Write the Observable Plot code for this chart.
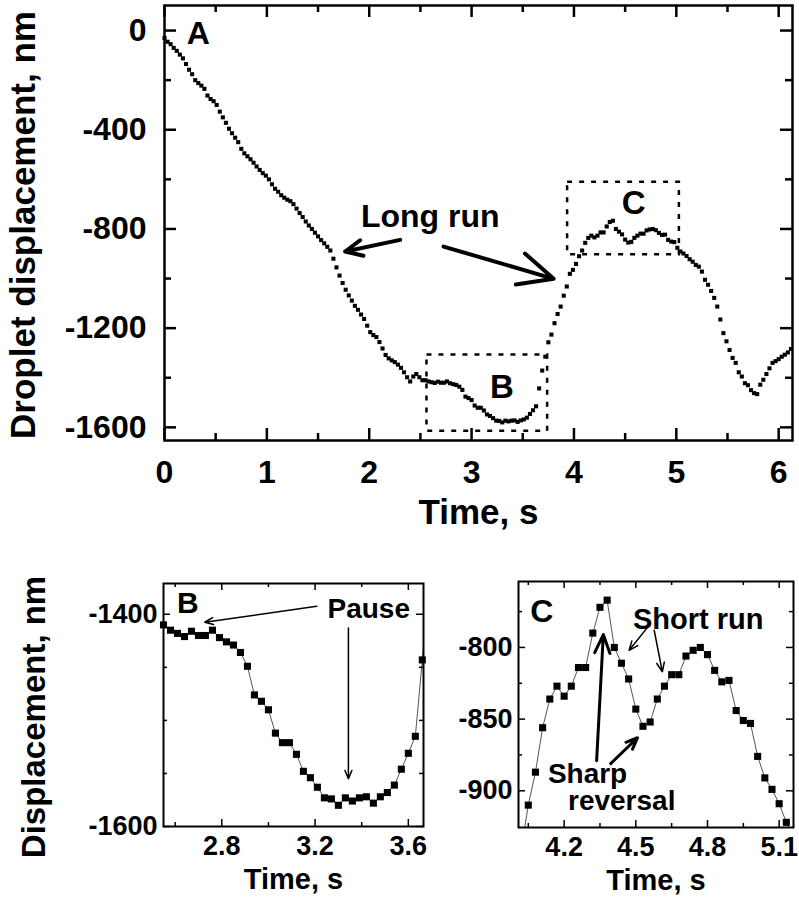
<!DOCTYPE html>
<html><head><meta charset="utf-8">
<script src="https://cdn.jsdelivr.net/npm/d3@7"></script>
<script src="https://cdn.jsdelivr.net/npm/@observablehq/plot@0.6"></script>
<style>
body{margin:0;background:#fff;}
#fig{position:relative;width:799px;height:899px;overflow:hidden;background:#fff;}
</style></head><body><div id="fig"></div>
<script>
// Sample times (s) and droplet displacement (nm)
const timeS = [
0,0.03,0.06,0.09,0.12,0.15,0.18,0.21,0.24,0.27,
0.30,0.33,0.36,0.39,0.42,0.45,0.48,0.51,0.54,0.57,
0.60,0.63,0.66,0.69,0.72,0.75,0.78,0.81,0.84,0.87,
0.90,0.93,0.96,0.99,1.02,1.05,1.08,1.11,1.14,1.17,
1.20,1.23,1.26,1.29,1.32,1.35,1.38,1.41,1.44,1.47,
1.50,1.53,1.56,1.59,1.62,1.65,1.68,1.71,1.74,1.77,
1.80,1.83,1.86,1.89,1.92,1.95,1.98,2.01,2.04,2.07,
2.10,2.13,2.16,2.19,2.22,2.25,2.28,2.31,2.34,2.37,
2.40,2.43,2.46,2.49,2.52,2.55,2.58,2.61,2.64,2.67,
2.70,2.73,2.76,2.79,2.82,2.85,2.88,2.91,2.94,2.97,
3.00,3.03,3.06,3.09,3.12,3.15,3.18,3.21,3.24,3.27,
3.30,3.33,3.36,3.39,3.42,3.45,3.48,3.51,3.54,3.57,
3.60,3.63,3.66,3.69,3.72,3.75,3.78,3.81,3.84,3.87,
3.90,3.93,3.96,3.99,4.02,4.05,4.08,4.11,4.14,4.17,
4.20,4.23,4.26,4.29,4.32,4.35,4.38,4.41,4.44,4.47,
4.50,4.53,4.56,4.59,4.62,4.65,4.68,4.71,4.74,4.77,
4.80,4.83,4.86,4.89,4.92,4.95,4.98,5.01,5.04,5.07,
5.10,5.13,5.16,5.19,5.22,5.25,5.28,5.31,5.34,5.37,
5.40,5.43,5.46,5.49,5.52,5.55,5.58,5.61,5.64,5.67,
5.70,5.73,5.76,5.79,5.82,5.85,5.88,5.91,5.94,5.97,
6.00,6.03,6.06,6.09,6.12];
const dispNm = [
-30,-45,-55,-70,-82,-97,-112,-135,-158,-176,
-200,-212,-222,-235,-262,-276,-285,-300,-327,-350,
-372,-396,-414,-432,-450,-477,-495,-507,-519,-533,
-548,-562,-575,-585,-600,-620,-638,-650,-664,-674,
-682,-688,-700,-718,-736,-752,-770,-786,-800,-815,
-830,-845,-858,-872,-887,-920,-955,-988,-1018,-1045,
-1068,-1089,-1110,-1126,-1145,-1163,-1190,-1216,-1228,-1236,
-1256,-1282,-1308,-1322,-1330,-1337,-1347,-1360,-1378,-1398,
-1415,-1395,-1385,-1398,-1410,-1410,-1415,-1418,-1421,-1416,
-1420,-1420,-1415,-1422,-1426,-1429,-1436,-1449,-1476,-1482,
-1490,-1512,-1521,-1521,-1532,-1548,-1554,-1563,-1573,-1574,
-1580,-1573,-1576,-1573,-1572,-1578,-1572,-1568,-1561,-1546,
-1531,-1515,-1443,-1371,-1315,-1257,-1226,-1180,-1143,-1113,
-1069,-1032,-981,-965,-941,-910,-887,-856,-836,-827,
-834,-827,-814,-814,-790,-772,-767,-800,-811,-822,
-843,-855,-852,-836,-827,-819,-819,-806,-802,-800,
-805,-816,-824,-823,-844,-851,-853,-876,-891,-899,
-909,-922,-932,-945,-952,-972,-1005,-1025,-1050,-1078,
-1113,-1165,-1220,-1253,-1288,-1320,-1340,-1378,-1395,-1422,
-1430,-1450,-1462,-1466,-1428,-1408,-1385,-1362,-1340,-1333,
-1325,-1315,-1307,-1298,-1284];

// Tick values
const mainXMajor = [0,1,2,3,4,5,6];
const mainXMinor = [0.5,1.5,2.5,3.5,4.5,5.5];
const mainYMajor = [-1600,-1200,-800,-400,0];
const mainYMinor = [-1400,-1000,-600,-200];
const bXMajor = [2.8,3.2,3.6];
const bXMinor = [2.6,3.0,3.4];
const bYMajor = [-1600,-1400];
const bYMinor = [-1550,-1500,-1450];
const cXMajor = [4.2,4.5,4.8,5.1];
const cXMinor = [4.05,4.35,4.65,4.95];
const cYMajor = [-900,-850,-800];
const cYMinor = [-875,-825,-775];

// Annotations (data units)
const mainNotes = [
  {label:"A", t:0.33, v:-12, size:32},
  {label:"B", t:3.297, v:-1438, size:33},
  {label:"C", t:4.584, v:-699, size:33},
  {label:"Long run", t:2.596, v:-750, size:32}
];
const mainArrows = [
  {t1:2.302, v1:-844, t2:1.765, v2:-891},
  {t1:2.726, v1:-871, t2:3.802, v2:-1001}
];
const zoomBoxes = [
  {t1:2.564, t2:3.743, v1:-1616, v2:-1308},
  {t1:3.938, t2:5.03, v1:-904, v2:-612}
];
const bNotes = [
  {label:"B", t:2.654, v:-1390, size:30},
  {label:"Pause", t:3.43, v:-1395, size:28}
];
const bArrows = [
  {t1:3.207, v1:-1392.5, t2:2.727, v2:-1407.5, w:1.5},
  {t1:3.343, v1:-1413, t2:3.343, v2:-1555, w:1.5}
];
const cNotes = [
  {label:"C", t:4.107, v:-775, size:32},
  {label:"Short run", t:4.761, v:-781, size:29},
  {label:"Sharp", t:4.298, v:-888, size:28},
  {label:"reversal", t:4.441, v:-907, size:28}
];
const cArrows = [
  {t1:4.549, v1:-786, t2:4.472, v2:-802, w:1.5},
  {t1:4.577, v1:-788, t2:4.611, v2:-817, w:1.5},
  {t1:4.336, v1:-879, t2:4.364, v2:-791, w:3},
  {t1:4.395, v1:-881, t2:4.507, v2:-863, w:3}
];

const FONT = "'Liberation Sans', Arial, Helvetica, sans-serif";
const data = timeS.map((t, i) => ({t, v: dispNm[i]}));
const fmt = d => String(d);
const fmt1 = d => d.toFixed(1);

function frameTicks(xMaj, xMin, yMaj, yMin, innerW, innerH, lMaj, lMin, sw) {
  const o = {stroke: "black", strokeWidth: sw};
  return [
    Plot.tickX(xMaj, {x: d => d, insetTop: innerH - lMaj, ...o}),
    Plot.tickX(xMaj, {x: d => d, insetBottom: innerH - lMaj, ...o}),
    Plot.tickX(xMin, {x: d => d, insetTop: innerH - lMin, ...o}),
    Plot.tickX(xMin, {x: d => d, insetBottom: innerH - lMin, ...o}),
    Plot.tickY(yMaj, {y: d => d, insetRight: innerW - lMaj, ...o}),
    Plot.tickY(yMaj, {y: d => d, insetLeft: innerW - lMaj, ...o}),
    Plot.tickY(yMin, {y: d => d, insetRight: innerW - lMin, ...o}),
    Plot.tickY(yMin, {y: d => d, insetLeft: innerW - lMin, ...o})
  ];
}
function notes(list) {
  return list.map(n => Plot.text([n], {x: "t", y: "v", text: "label", fontSize: n.size,
    fontWeight: "bold", textAnchor: "middle", lineAnchor: "middle", fill: "black"}));
}
function arrows(list, head, angle) {
  return list.map(a => Plot.arrow([a], {x1: "t1", y1: "v1", x2: "t2", y2: "v2",
    stroke: "black", strokeWidth: a.w ?? 4, headLength: head, headAngle: angle}));
}
function place(svg, left, top) {
  svg.style.position = "absolute";
  svg.style.left = left + "px";
  svg.style.top = top + "px";
  document.getElementById("fig").appendChild(svg);
}

// ---- Main panel A ----
{
  const width = 799, height = 545, mL = 164, mR = 7, mT = 5, mB = 105;
  const iW = width - mL - mR, iH = height - mT - mB;
  const svg = Plot.plot({
    width, height, marginLeft: mL, marginRight: mR, marginTop: mT, marginBottom: mB,
    style: {fontFamily: FONT, fontWeight: "bold", background: "white"},
    x: {domain: [0, 6.135], axis: null},
    y: {domain: [-1653, 101], axis: null},
    marks: [
      Plot.rect(zoomBoxes, {x1: "t1", x2: "t2", y1: "v1", y2: "v2", fill: "none",
        stroke: "black", strokeWidth: 2.5, strokeDasharray: "5,7"}),
      Plot.dot(data, {x: "t", y: "v", symbol: "square", r: 2.3, fill: "black", stroke: "none"}),
      ...frameTicks(mainXMajor, mainXMinor, mainYMajor, mainYMinor, iW, iH, 12, 7, 2.5),
      Plot.frame({stroke: "black", strokeWidth: 2.5}),
      Plot.axisX(mainXMajor, {tickSize: 0, tickPadding: 20, fontSize: 32, fontWeight: "bold", tickFormat: fmt, label: null}),
      Plot.axisY(mainYMajor, {tickSize: 0, tickPadding: 18, fontSize: 32, fontWeight: "bold", tickFormat: fmt, label: null}),
      Plot.text(["Time, s"], {frameAnchor: "bottom", dy: 72, fontSize: 35, fontWeight: "bold", lineAnchor: "middle"}),
      Plot.text(["Droplet displacement, nm"], {frameAnchor: "left", dx: -141, dy: 2, rotate: -90,
        fontSize: 35, fontWeight: "bold", lineAnchor: "middle", textAnchor: "middle"}),
      ...notes(mainNotes),
      ...arrows(mainArrows, 16, 50)
    ]
  });
  place(svg, 0, 0);
}

// ---- Panel B ----
{
  const width = 440, height = 354, mL = 163, mR = 17, mT = 38, mB = 73;
  const iW = width - mL - mR, iH = height - mT - mB;
  const xd = [2.55, 3.665], yd = [-1600, -1371];
  const inB = data.filter(d => d.t >= xd[0] - 0.001 && d.t <= xd[1] && d.v >= yd[0] && d.v <= yd[1]);
  const svg = Plot.plot({
    width, height, marginLeft: mL, marginRight: mR, marginTop: mT, marginBottom: mB,
    style: {fontFamily: FONT, fontWeight: "bold", background: "white"},
    x: {domain: xd, axis: null},
    y: {domain: yd, axis: null},
    marks: [
      Plot.line(data, {x: "t", y: "v", stroke: "#555", strokeWidth: 1, clip: true}),
      Plot.dot(inB, {x: "t", y: "v", symbol: "square", r: 4, fill: "black", stroke: "none"}),
      ...frameTicks(bXMajor, bXMinor, bYMajor, bYMinor, iW, iH, 7, 4, 1.5),
      Plot.frame({stroke: "black", strokeWidth: 2}),
      Plot.axisX(bXMajor, {tickSize: 0, tickPadding: 9, fontSize: 27, fontWeight: "bold", tickFormat: fmt1, label: null}),
      Plot.axisY(bYMajor, {tickSize: 0, tickPadding: 6, fontSize: 27, fontWeight: "bold", tickFormat: fmt, label: null}),
      Plot.text(["Time, s"], {frameAnchor: "bottom", dy: 53, fontSize: 29, fontWeight: "bold", lineAnchor: "middle"}),
      Plot.text(["Displacement, nm"], {frameAnchor: "left", dx: -129, dy: 12, rotate: -90,
        fontSize: 33, fontWeight: "bold", lineAnchor: "middle", textAnchor: "middle"}),
      ...notes(bNotes),
      ...arrows(bArrows, 9, 45)
    ]
  });
  place(svg, 0, 545);
}

// ---- Panel C ----
{
  const width = 359, height = 354, mL = 78, mR = 6, mT = 36, mB = 72;
  const iW = width - mL - mR, iH = height - mT - mB;
  const xd = [4.009, 5.16], yd = [-925.6, -754];
  const inC = data.filter(d => d.t >= xd[0] && d.t <= xd[1] && d.v >= yd[0] && d.v <= yd[1]);
  const svg = Plot.plot({
    width, height, marginLeft: mL, marginRight: mR, marginTop: mT, marginBottom: mB,
    style: {fontFamily: FONT, fontWeight: "bold", background: "white"},
    x: {domain: xd, axis: null},
    y: {domain: yd, axis: null},
    marks: [
      Plot.line(data, {x: "t", y: "v", stroke: "#555", strokeWidth: 1, clip: true}),
      Plot.dot(inC, {x: "t", y: "v", symbol: "square", r: 4, fill: "black", stroke: "none"}),
      ...frameTicks(cXMajor, cXMinor, cYMajor, cYMinor, iW, iH, 7, 4, 1.5),
      Plot.frame({stroke: "black", strokeWidth: 2}),
      Plot.axisX(cXMajor, {tickSize: 0, tickPadding: 9, fontSize: 27, fontWeight: "bold", tickFormat: fmt1, label: null}),
      Plot.axisY(cYMajor, {tickSize: 0, tickPadding: 6, fontSize: 27, fontWeight: "bold", tickFormat: fmt, label: null}),
      Plot.text(["Time, s"], {frameAnchor: "bottom", dy: 53, fontSize: 29, fontWeight: "bold", lineAnchor: "middle"}),
      ...notes(cNotes),
      ...arrows(cArrows, 10, 45)
    ]
  });
  place(svg, 440, 545);
}
</script></body></html>
